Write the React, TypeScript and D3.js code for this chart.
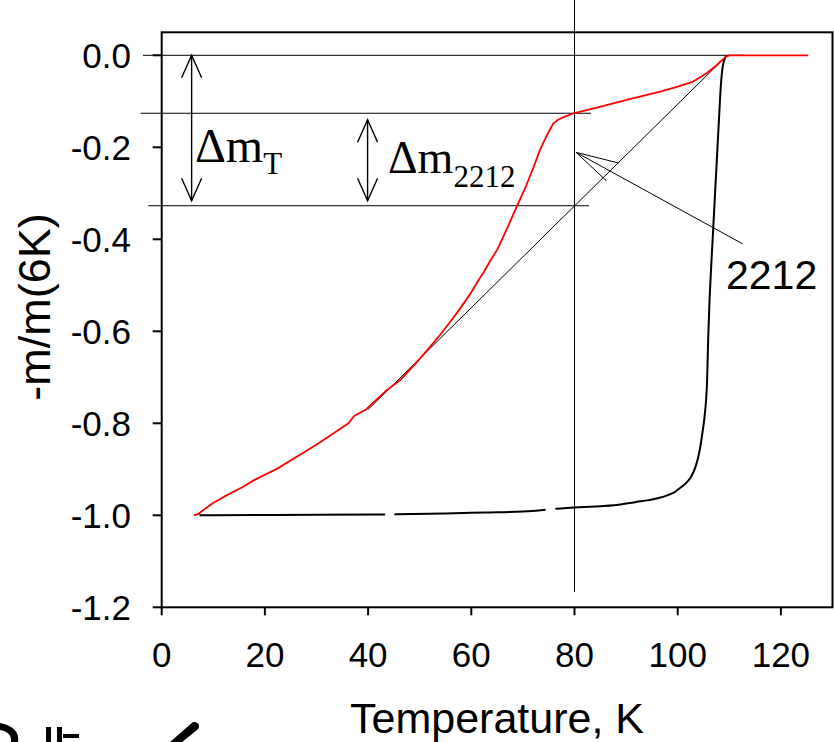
import React from "react";
import * as d3 from "d3";

// Temperature axis ticks (K) and normalised-moment ticks
const xTicks = [0, 20, 40, 60, 80, 100, 120];
const yTicks = [0.0, -0.2, -0.4, -0.6, -0.8, -1.0, -1.2];

// ZFC-type trace (red): temperature and normalised moment
const redT = [6.2, 7.1, 8.5, 9.9, 12, 15.8, 18, 22.5, 26, 29.9, 32.9, 36.2, 37.3, 39.6, 41, 43.3, 46.2, 48, 50, 52, 54, 56, 58, 60, 61.5, 62.5, 63.5, 65, 65.9, 67.5, 68.8, 70.7, 72, 73.3, 74.6, 75.9, 76.8, 77.8, 79.8, 84.9, 90.1, 96.6, 100, 103, 105.6, 107.6, 109.3, 110, 125.3];
const redM = [-1.0, -0.997, -0.985, -0.974, -0.96, -0.938, -0.923, -0.898, -0.874, -0.847, -0.825, -0.8, -0.784, -0.77, -0.755, -0.731, -0.706, -0.685, -0.66, -0.634, -0.607, -0.578, -0.548, -0.515, -0.487, -0.47, -0.45, -0.423, -0.402, -0.362, -0.329, -0.282, -0.245, -0.206, -0.175, -0.148, -0.14, -0.135, -0.126, -0.112, -0.097, -0.079, -0.068, -0.057, -0.039, -0.021, -0.003, 0, 0];

// Second trace (black); null marks missing readings
const blackT = [7.3, 20, 30, 43.3, 44.2, 45.1, 55, 62.5, 70, 74.4, 75.3, 76.3, 80, 84, 88.5, 92, 94.4, 96.5, 98.1, 99.5, 100.4, 101.6, 102.6, 103.5, 104.2, 104.8, 105.2, 105.7, 105.9, 106.9, 107.9, 108.4, 108.6, 109.2, 109.6];
const blackM: (number | null)[] = [-1.0, -0.9995, -0.999, -0.998, null, -0.998, -0.996, -0.994, -0.992, -0.988, null, -0.986, -0.983, -0.981, -0.977, -0.971, -0.967, -0.962, -0.956, -0.949, -0.941, -0.93, -0.916, -0.893, -0.862, -0.82, -0.786, -0.706, -0.619, -0.373, -0.16, -0.06, -0.035, -0.005, 0];

// Tangent drawn to the red trace
const tangentT = [40, 109.6];
const tangentM = [-0.77, 0];

// Construction levels
const levelT = -0.126;
const level2212 = -0.327;

const W = 834;
const H = 742;

export default function App() {
  const x = d3.scaleLinear().domain([0, 130]).range([161.7, 832.5]);
  const y = d3.scaleLinear().domain([-1.2, 0.05]).range([607.3, 32.3]);

  const red = redT.map((t, i) => ({ t, m: redM[i] }));
  const black = blackT.map((t, i) => ({ t, m: blackM[i] }));

  const line = d3
    .line<{ t: number; m: number | null }>()
    .defined((d) => d.m !== null)
    .x((d) => x(d.t))
    .y((d) => y(d.m as number));

  const smoothLine = d3
    .line<{ t: number; m: number | null }>()
    .defined((d) => d.m !== null)
    .x((d) => x(d.t))
    .y((d) => y(d.m as number))
    .curve(d3.curveMonotoneX);

  const x0 = x(0);
  const x1 = x(130);
  const yTop = y(0.05);
  const yBot = y(-1.2);

  const sans = "'Liberation Sans', Arial, sans-serif";
  const serif = "'Liberation Serif', 'Times New Roman', serif";

  // double-headed vertical arrow
  const dblArrow = (xv: number, ya: number, yb: number) => (
    <g stroke="#000" strokeWidth={1.4} fill="none">
      <line x1={xv} y1={ya} x2={xv} y2={yb} />
      <polyline points={`${xv - 10},${ya + 22.5} ${xv},${ya} ${xv + 10},${ya + 22.5}`} />
      <polyline points={`${xv - 10},${yb - 22.5} ${xv},${yb} ${xv + 10},${yb - 22.5}`} />
    </g>
  );

  const tipX = x(80.3);
  const tipY = y(-0.211);

  return (
    <svg
      width={W}
      height={H}
      style={{ position: "absolute", left: 0, top: 0, background: "#fff" }}
    >
      <rect x={0} y={0} width={W} height={H} fill="#fff" />

      {/* frame */}
      <rect x={x0} y={yTop} width={x1 - x0} height={yBot - yTop} fill="none" stroke="#000" strokeWidth={2} />

      {/* left ticks */}
      {yTicks.map((v) => (
        <g key={"y" + v}>
          <line x1={x0 - 9} x2={x0} y1={y(v)} y2={y(v)} stroke="#000" strokeWidth={2} />
          <text x={131} y={y(v)} dy="0.35em" textAnchor="end" fontFamily={sans} fontSize={35}>
            {v.toFixed(1)}
          </text>
        </g>
      ))}

      {/* bottom ticks */}
      {xTicks.map((t) => (
        <g key={"x" + t}>
          <line x1={x(t)} x2={x(t)} y1={yBot} y2={yBot + 8} stroke="#000" strokeWidth={2} />
          <text x={x(t)} y={667} textAnchor="middle" fontFamily={sans} fontSize={35}>
            {t}
          </text>
        </g>
      ))}

      {/* axis titles */}
      <text x={497} y={733} textAnchor="middle" fontFamily={sans} fontSize={43}>
        Temperature, K
      </text>
      <text
        transform={`translate(50,307) rotate(-90)`}
        textAnchor="middle"
        fontFamily={sans}
        fontSize={45}
      >
        -m/m(6K)
      </text>

      {/* construction lines */}
      <g stroke="#000" strokeWidth={1} fill="none">
        <line x1={143} x2={x(113)} y1={y(0)} y2={y(0)} />
        <line x1={140.7} x2={x(83.2)} y1={y(levelT)} y2={y(levelT)} />
        <line x1={148.3} x2={x(82.8)} y1={y(level2212)} y2={y(level2212)} />
        <line x1={x(80)} x2={x(80)} y1={0} y2={591.7} />
        <line x1={x(tangentT[0])} y1={y(tangentM[0])} x2={x(tangentT[1])} y2={y(tangentM[1])} />
        {/* pointer to the 2212 label */}
        <line x1={tipX} y1={tipY} x2={x(112.6)} y2={y(-0.41)} />
        <line x1={tipX} y1={tipY} x2={x(88.5)} y2={y(-0.234)} />
        <line x1={tipX} y1={tipY} x2={x(86.2)} y2={y(-0.273)} />
      </g>

      {/* data traces */}
      <path d={smoothLine(black) || ""} fill="none" stroke="#000" strokeWidth={2} strokeLinejoin="round" />
      <path d={line(red) || ""} fill="none" stroke="#ff0000" strokeWidth={1.8} strokeLinejoin="round" />

      {/* arrows and labels */}
      {dblArrow(x(5.8), y(0), y(-0.316))}
      {dblArrow(x(39.9), y(-0.14), y(-0.316))}

      <text x={195} y={161.7} fontFamily={serif} fontSize={48}>
        Δm
        <tspan fontSize={31} dy={12.3}>T</tspan>
      </text>
      <text x={388} y={173.3} fontFamily={serif} fontSize={46}>
        Δm
        <tspan fontSize={31} dy={13.5}>2212</tspan>
      </text>

      <text x={726} y={289} fontFamily={sans} fontSize={41}>
        2212
      </text>

      {/* fragments of the following panel at the lower edge */}
      <g fill="#000" stroke="none">
        <path d="M0,723 C12,725 20,732 18,742 L11,742 C12,735 7,731 0,730 Z" />
        <rect x={46} y={727} width={5} height={15} />
        <rect x={57} y={727} width={5} height={15} />
        <rect x={63} y={734} width={16} height={4} />
        <path d="M193,722 C199,721 201,727 197,730 L182,742 L170,742 Z" />
      </g>
    </svg>
  );
}
